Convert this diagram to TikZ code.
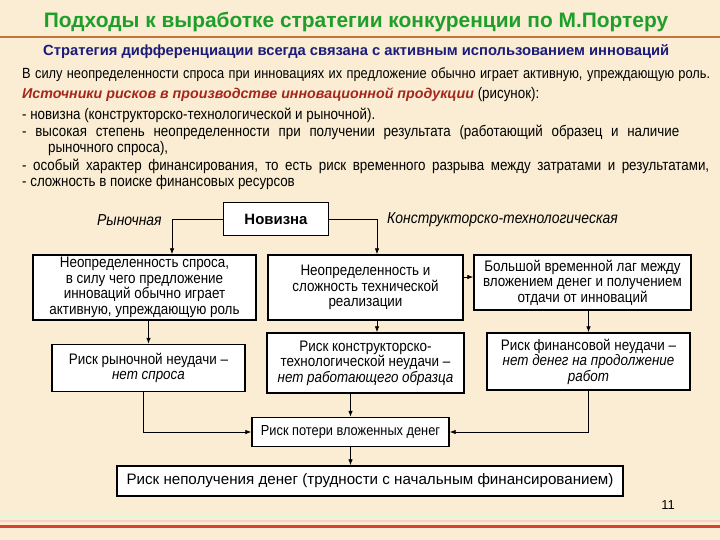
\documentclass[tikz,border=0pt]{standalone}
\usepackage{fontspec}
\setmainfont{Liberation Sans}
\newfontfamily\narrow[FakeStretch=0.87]{Liberation Sans}
\newfontfamily\boxfont[FakeStretch=0.88]{Liberation Sans}
\usetikzlibrary{arrows.meta}
\definecolor{bg}{HTML}{FAEDD3}
\definecolor{titlegreen}{HTML}{1E9E2A}
\definecolor{navy}{HTML}{1B1B7A}
\definecolor{darkred}{HTML}{A5261C}
\definecolor{topline}{HTML}{C47438}
\definecolor{botred}{HTML}{D8432B}
\newcommand{\fullline}[2]{\makebox[#1][s]{#2}}
\tikzset{
  box/.style={draw=black, line width=1.4bp, fill=white, align=center, inner sep=2bp,
    font=\boxfont\fontsize{15.3}{15.5}\selectfont},
  conn/.style={draw=black, line width=0.8bp, -{Latex[length=6bp,width=4.5bp]}},
  bodytext/.style={anchor=west, inner sep=0pt, font=\narrow\fontsize{15.4}{17}\selectfont},
  lbl/.style={anchor=west, inner sep=0pt, font=\boxfont\itshape\fontsize{15.9}{16}\selectfont}
}
\begin{document}
\begin{tikzpicture}[x=1bp,y=-1bp]
\useasboundingbox[fill=bg] (0,0) rectangle (720,540);
% decorative lines
\draw[topline, line width=2bp] (0,37.5) -- (720,37.5);
\draw[green!15!white, line width=2bp] (0,517) -- (720,517);
\draw[red!20!white, line width=2bp] (0,521) -- (720,521);
\draw[botred, line width=3bp] (0,526) -- (720,526);
% texts
\node[anchor=center, inner sep=0pt, text=titlegreen, font=\bfseries\fontsize{21}{24}\selectfont] (title) at (356,22) {Подходы к выработке стратегии конкуренции по М.Портеру};
\node[anchor=west, inner sep=0pt, text=navy, font=\bfseries\fontsize{14.8}{17}\selectfont] (sub) at (43,52) {Стратегия дифференциации всегда связана с активным использованием инноваций};
\node[bodytext, font=\narrow\fontsize{14.8}{17}\selectfont] (l1) at (22,75) {\fullline{688bp}{В силу неопределенности спроса при инновациях их предложение обычно играет активную, упреждающую роль.}};
\node[bodytext] (l2) at (22,95) {\textcolor{darkred}{\rmfamily\fontsize{14.3}{17}\selectfont\bfseries\itshape Источники рисков в производстве инновационной продукции} (рисунок):};
\node[bodytext] (l3) at (22,115) {- новизна (конструкторско-технологической и рыночной).};
\node[bodytext] (l4) at (22,132) {\fullline{657bp}{- высокая степень неопределенности при получении результата (работающий образец и наличие}};
\node[bodytext] (l5) at (48,149) {рыночного спроса),};
\node[bodytext] (l6) at (22,166) {\fullline{687bp}{- особый характер финансирования, то есть риск временного разрыва между затратами и результатами,}};
\node[bodytext] (l7) at (22,183) {- сложность в поиске финансовых ресурсов};
% diagram boxes
\node[box, minimum width=105bp, minimum height=33bp, font=\bfseries\fontsize{15}{17}\selectfont] (N) at (276,219) {Новизна};
\node[lbl] (lr) at (97,220) {Рыночная};
\node[lbl] (lk) at (387,220) {Конструкторско-технологическая};
\node[box, minimum width=223bp, minimum height=65bp] (A) at (144.5,287.5) {Неопределенность спроса,\\в силу чего предложение\\инноваций обычно играет\\активную, упреждающую роль};
\node[box, minimum width=195bp, minimum height=65bp] (B) at (365.5,287.5) {Неопределенность и\\сложность технической\\реализации};
\node[box, minimum width=217bp, minimum height=55bp] (C) at (582.5,282.5) {Большой временной лаг между\\вложением денег и получением\\отдачи от инноваций};
\node[box, minimum width=193bp, minimum height=47bp] (D) at (148.5,368) {Риск рыночной неудачи –\\\textit{нет спроса}};
\node[box, minimum width=197bp, minimum height=60bp] (E) at (365.5,363) {Риск конструкторско-\\технологической неудачи –\\\textit{нет работающего образца}};
\node[box, minimum width=203bp, minimum height=57bp] (F) at (588.5,361.5) {Риск финансовой неудачи –\\\textit{нет денег на продолжение}\\\textit{работ}};
\node[box, minimum width=197bp, minimum height=29bp, font=\boxfont\fontsize{14.6}{15}\selectfont] (G) at (350.5,432) {Риск потери вложенных денег};
\node[box, minimum width=506bp, minimum height=30bp, font=\fontsize{15.2}{17}\selectfont] (H) at (370,481) {Риск неполучения денег (трудности с начальным финансированием)};
\node[anchor=center, inner sep=0pt, font=\fontsize{13}{15}\selectfont] (pg) at (668,505) {11};
% connectors
\draw[conn] (N.west) -| ([xshift=27.5bp]A.north);
\draw[conn] (N.east) -| ([xshift=11.5bp]B.north);
\draw[conn] ([yshift=10.5bp]B.east) -- ([yshift=10.5bp]B.east -| C.west);
\draw[conn] (D.north |- A.south) -- (D.north);
\draw[conn] ([xshift=11.5bp]B.south) -- ([xshift=11.5bp]B.south |- E.north);
\draw[conn] (F.north |- C.south) -- (F.north);
\draw[conn] (G.north |- E.south) -- (G.north);
\draw[conn] ([xshift=-5.5bp]D.south) |- (G.west);
\draw[conn] (F.south) |- (G.east);
\draw[conn] (G.south) -- (G.south |- H.north);
\end{tikzpicture}
\end{document}
